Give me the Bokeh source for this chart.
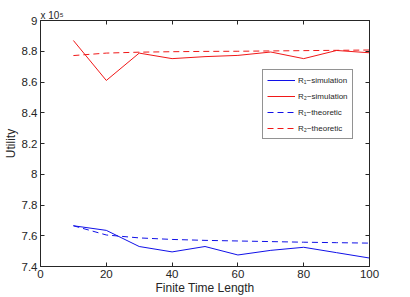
from bokeh.plotting import figure
from bokeh.models import (LinearAxis, FixedTicker, Legend, LegendItem, Range1d,
                          AllLabels, Title, PrintfTickFormatter)
from bokeh.embed import file_html
from bokeh.resources import INLINE

# Finite time length (x) and utility in units of 10^5 (y)
time_length = [10, 20, 30, 40, 50, 60, 70, 80, 90, 100]
r1_simulation = [7.665, 7.635, 7.530, 7.495, 7.530, 7.475, 7.505, 7.525, 7.490, 7.455]
r2_simulation = [8.870, 8.610, 8.788, 8.752, 8.765, 8.773, 8.795, 8.752, 8.805, 8.790]
r1_theoretic = [7.665, 7.605, 7.586, 7.576, 7.570, 7.566, 7.562, 7.558, 7.555, 7.552]
r2_theoretic = [8.772, 8.788, 8.794, 8.797, 8.799, 8.800, 8.802, 8.804, 8.806, 8.808]

x_ticks = [0, 20, 40, 60, 80, 100]
y_ticks = [7.4, 7.6, 7.8, 8.0, 8.2, 8.4, 8.6, 8.8, 9.0]

FONT = "Liberation Sans"
AXIS_COLOR = "#262626"
BLUE = "#1010e8"
RED = "#f01818"

p = figure(width=410, height=297, output_backend="svg", toolbar_location=None,
           x_range=Range1d(0, 100), y_range=Range1d(7.4, 9.0),
           x_axis_label="Finite Time Length", y_axis_label="Utility",
           min_border_left=36, min_border_right=41, min_border_top=20,
           min_border_bottom=30)
p.xgrid.visible = False
p.ygrid.visible = False
p.outline_line_color = AXIS_COLOR
p.background_fill_color = "white"
p.border_fill_color = "white"

def style(ax, ticks, labels=True):
    ax.ticker = FixedTicker(ticks=ticks)
    ax.formatter = PrintfTickFormatter(format="%g")
    ax.major_label_policy = AllLabels()
    ax.axis_line_color = AXIS_COLOR
    ax.major_tick_line_color = AXIS_COLOR
    ax.major_tick_in = 4
    ax.major_tick_out = 0
    ax.minor_tick_line_color = None
    ax.major_label_text_font = FONT
    ax.major_label_text_font_size = "11.5px"
    ax.major_label_text_color = "#262626"
    ax.axis_label_text_font = FONT
    ax.axis_label_text_font_size = "12px"
    ax.axis_label_text_font_style = "normal"
    ax.axis_label_text_color = "#262626"
    if not labels:
        ax.major_label_text_font_size = "0px"
        ax.major_label_standoff = 0
        ax.major_label_overrides = {t: " " for t in ticks}

style(p.xaxis[0], x_ticks)
style(p.yaxis[0], y_ticks)
p.xaxis[0].major_label_standoff = 3
p.xaxis[0].axis_label_standoff = 0
p.yaxis[0].major_label_standoff = 3
p.yaxis[0].axis_label_standoff = 1

top = LinearAxis()
right = LinearAxis()
style(top, x_ticks, labels=False)
style(right, y_ticks, labels=False)
p.add_layout(top, "above")
p.add_layout(right, "right")

l1 = p.line(time_length, r1_simulation, line_color=BLUE, line_width=1)
l2 = p.line(time_length, r2_simulation, line_color=RED, line_width=1)
l3 = p.line(time_length, r1_theoretic, line_color=BLUE, line_width=1, line_dash="6 4")
l4 = p.line(time_length, r2_theoretic, line_color=RED, line_width=1, line_dash="6 4")

legend = Legend(items=[
    LegendItem(label="R\u2081\u2212simulation", renderers=[l1]),
    LegendItem(label="R\u2082\u2212simulation", renderers=[l2]),
    LegendItem(label="R\u2081\u2212theoretic", renderers=[l3]),
    LegendItem(label="R\u2082\u2212theoretic", renderers=[l4]),
], location=(222, 127))
legend.label_text_font = FONT
legend.label_text_font_size = "8px"
legend.label_text_color = "#262626"
legend.glyph_width = 28
legend.glyph_height = 12
legend.label_height = 12
legend.label_width = 10
legend.label_standoff = 3
legend.spacing = 4
legend.padding = 4
legend.margin = 0
legend.border_line_color = AXIS_COLOR
legend.border_line_width = 1
legend.background_fill_alpha = 1
p.add_layout(legend)

# Scale factor of the utility axis, shown above its top-left corner
p.add_layout(Title(text="x 10\u2075", align="left", text_font=FONT,
                   text_font_size="10px", text_font_style="normal",
                   text_color="#262626", standoff=0, offset=0), "above")

open("out.html", "w").write(file_html(p, INLINE))
